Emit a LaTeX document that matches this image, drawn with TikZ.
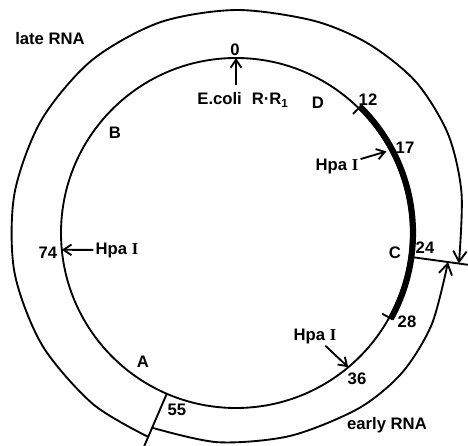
\documentclass[tikz,border=0pt]{standalone}
\usepackage{fontspec}
\setmainfont{Liberation Sans}
\newfontfamily\serifI{Liberation Serif}
\usetikzlibrary{arrows.meta}

\newcommand{\hpa}{Hpa {\serifI I}}

\begin{document}
\begin{tikzpicture}[
  x=0.75pt, y=-0.75pt,
  line width=1.4pt,
  >={Straight Barb[length=6pt, width=8pt]},
  font=\fontsize{12.5}{14}\selectfont\bfseries,
  lbl/.style={inner sep=1pt},
  gene/.style={line width=4.6pt},
  rna/.style={-{Straight Barb[length=8pt, width=10pt]}},
]
  \useasboundingbox (0,0) rectangle (468,446);
  \coordinate (c) at (236,233);

  % map circle and the marked positions on it
  \draw (c) circle[radius=175];
  \foreach \name/\ang in {m0/-90, m12/-45.5, m17/-28.2, m24/7.8, m28/28.9, m36/50.1, m55/113.3, m74/174.5}
    \path (c) ++(\ang:175) coordinate (\name);

  % cut lines at 55 and 24
  \path (c) ++(113.3:233) coordinate (out55);
  \path (c) ++(7.8:234)   coordinate (out24);

  % thick segment 12--28 with its end ticks
  \draw[gene] (c) ++(-45.5:177) arc[start angle=-45.5, end angle=28.9, radius=177];
  \draw (c) ++(-45.5:179) -- ++(134.5:12);
  \draw (c) ++(28.9:179) -- ++(208.9:12);

  \draw (m55) -- (out55);
  \draw (m24) -- (out24);

  % late and early RNA (polar points round the centre)
  \draw[rna, shift={(236,233)}] plot[smooth] coordinates {(113.3:222) (130:223) (150:224)
      (170:225) (190:225) (210:225) (230:225) (250:224) (270:223) (290:226) (305:231)
      (320:235) (335:234) (350:229) (367.8:225)};
  \draw[rna, shift={(236,233)}] plot[smooth] coordinates {(113.3:212) (95:210) (75:210)
      (55:214) (40:217) (25:216) (7.8:214)};

  \foreach \name/\txt/\x/\y in {%
      late/late RNA/50/39, early/early RNA/387/425,
      n0/0/235/50, n12/12/368/100, n17/17/405/148, n24/24/425/248,
      n28/28/407/322, n36/36/357/379, n55/55/177/410, n74/74/48/253,
      fa/A/143/362, fb/B/115/133, fc/C/395/253, fd/D/318/103,
      hpa17/\hpa/337/166, hpa74/\hpa/117/250, hpa36/\hpa/315/336}
    \node[lbl] (\name) at (\x,\y) {\txt};
  \node[lbl] (ecoli) at (243,100) {E.coli\hspace{0.6em}R·R\textsubscript{1}};

  \draw[->] ([yshift=4pt]ecoli.north -| m0) -- (m0);
  \draw[->, shorten >=3pt] (hpa17) -- (m17);
  \draw[->] (hpa74) -- (m74);
  \draw[->] (hpa36) -- (m36);
\end{tikzpicture}
\end{document}
